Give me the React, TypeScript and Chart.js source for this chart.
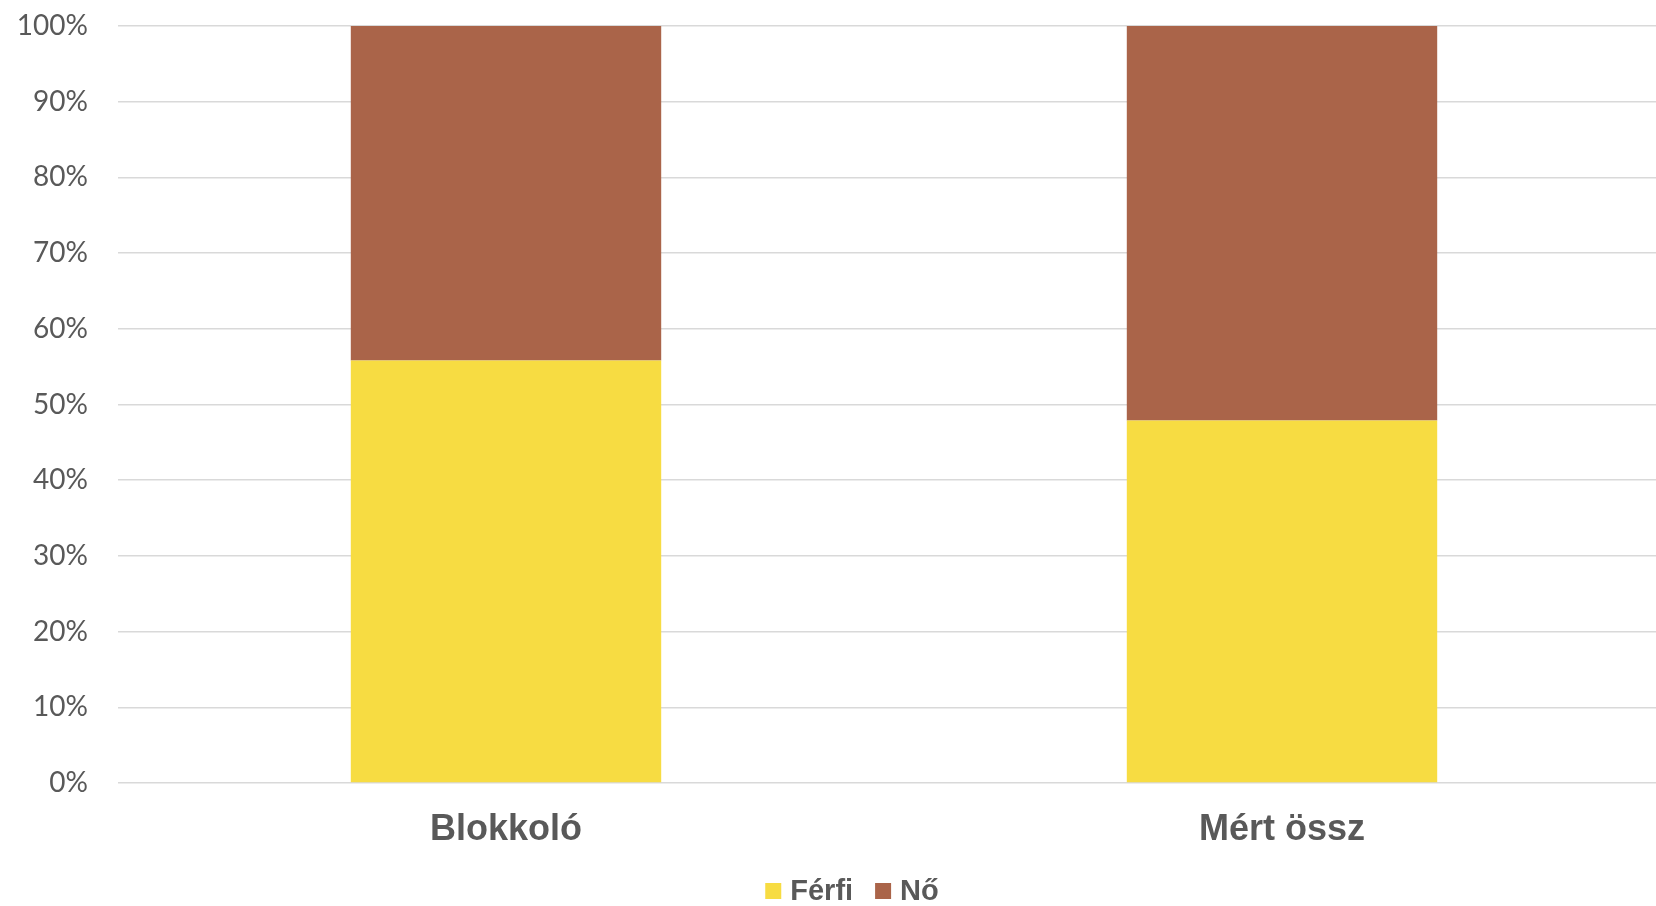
import React, { useEffect, useRef } from "react";
import { Chart, registerables } from "chart.js";

Chart.register(...registerables);

const categories = ["Blokkoló", "Mért össz"];
const seriesNames = ["Férfi", "Nő"];
const ferfiValues = [55.8, 47.9];
const noValues = [44.2, 52.1];
const seriesColors = ["#F7DC42", "#AA6449"];
const yTicks = [0, 10, 20, 30, 40, 50, 60, 70, 80, 90, 100];

const legendPlugin = {
  id: "customLegend",
  afterDraw(chart: any) {
    const ctx = chart.ctx;
    const ds = chart.data.datasets;
    ctx.save();
    ctx.font = "bold 29px 'Liberation Sans', Arial, sans-serif";
    const box = 16;
    const gap = 9;
    const itemGap = 22;
    const widths = ds.map((d: any) => box + gap + ctx.measureText(d.label).width);
    const total = widths.reduce((a: number, b: number) => a + b, 0) + itemGap * (ds.length - 1);
    let x = 852 - total / 2;
    const cy = 891;
    ds.forEach((d: any, i: number) => {
      ctx.fillStyle = d.backgroundColor;
      ctx.fillRect(x, cy - box / 2, box, box);
      ctx.fillStyle = "#595959";
      ctx.textBaseline = "middle";
      ctx.textAlign = "left";
      ctx.fillText(d.label, x + box + gap, cy + 1);
      x += widths[i] + itemGap;
    });
    ctx.restore();
  },
};

export default function App() {
  const ref = useRef<HTMLCanvasElement | null>(null);
  useEffect(() => {
    document.body.style.margin = "0";
    const canvas = ref.current!;
    const chart = new Chart(canvas, {
      type: "bar",
      data: {
        labels: categories,
        datasets: [
          { label: seriesNames[0], data: ferfiValues, backgroundColor: seriesColors[0], borderWidth: 0 },
          { label: seriesNames[1], data: noValues, backgroundColor: seriesColors[1], borderWidth: 0 },
        ],
      },
      options: {
        responsive: false,
        animation: false,
        layout: { padding: { top: 26, right: 0, bottom: 0, left: 0 } },
        datasets: { bar: { categoryPercentage: 1, barPercentage: 0.4 } },
        plugins: { legend: { display: false }, tooltip: { enabled: false } },
        scales: {
          x: {
            stacked: true,
            grid: { display: false, drawTicks: false },
            border: { display: false },
            ticks: {
              color: "#595959",
              padding: 25,
              font: { family: "'Liberation Sans', Arial, sans-serif", size: 36, weight: "bold" },
            },
            afterFit(scale: any) {
              scale.height = 123;
              scale.paddingLeft = 0;
              scale.paddingRight = 0;
            },
          },
          y: {
            stacked: true,
            min: 0,
            max: 100,
            afterBuildTicks(scale: any) {
              scale.ticks = yTicks.map((v) => ({ value: v }));
            },
            grid: { color: "#D9D9D9", lineWidth: 1.5, drawTicks: false },
            border: { display: false },
            ticks: {
              color: "#595959",
              padding: 30,
              font: { family: "Lato, sans-serif", size: 28 },
              callback: (v: any) => v + "%",
            },
            afterFit(scale: any) {
              scale.width = 118;
              scale.paddingTop = 0;
              scale.paddingBottom = 0;
            },
          },
        },
      },
      plugins: [legendPlugin],
    } as any);
    return () => chart.destroy();
  }, []);
  return (
    <div style={{ width: 1656, height: 906, overflow: "hidden" }}>
      <canvas ref={ref} width={1670} height={906} style={{ display: "block" }} />
    </div>
  );
}
